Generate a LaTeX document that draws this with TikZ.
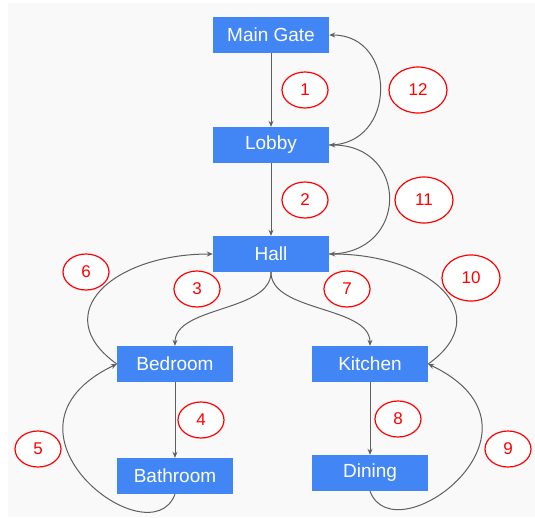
\documentclass[tikz,border=0pt]{standalone}
\usepackage{fontspec}
\setmainfont{Liberation Sans}
\usetikzlibrary{shapes.geometric,arrows.meta}
\definecolor{boxblue}{HTML}{4285F4}
\definecolor{bgc}{HTML}{F9F9F9}
\definecolor{edgec}{HTML}{5F5F5F}
\definecolor{numred}{HTML}{FF0000}
\begin{document}
\begin{tikzpicture}[x=1pt,y=-1pt,
  room/.style={draw=none,fill=boxblue,text=white,minimum width=116pt,minimum height=36pt,inner sep=0pt,font=\fontsize{19}{21}\selectfont},
  num/.style={ellipse,draw=numred,line width=1.2pt,fill=white,text=numred,minimum width=46pt,minimum height=36pt,inner sep=0pt,font=\fontsize{17}{19}\selectfont},
  numbig/.style={num,minimum width=58pt,minimum height=46pt},
  link/.style={draw=edgec,line width=1pt,-{Stealth[length=6pt,width=5pt]}}]
\useasboundingbox (0,0) rectangle (535,517);
\fill[bgc] (8,3) rectangle (535,517);
% rooms
\node[room] (gate) at (271,35) {Main Gate};
\node[room] (lobby) at (271,145) {Lobby};
\node[room] (hall) at (271,254) {Hall};
\node[room] (bed) at (175,364) {Bedroom};
\node[room] (bath) at (175,476) {Bathroom};
\node[room] (kit) at (370,364) {Kitchen};
\node[room] (din) at (370,473) {Dining};
% connectors
\draw[link] (gate.south) -- (lobby.north);
\draw[link] (lobby.south) -- (hall.north);
\draw[link] (hall.south) .. controls +(0,40) and +(0,-40) .. (bed.north);
\draw[link] (bed.south) -- (bath.north);
\draw[link] (bath.south) .. controls +(-25,66) and +(-137,66) .. (bed.west);
\draw[link] (bed.west) .. controls +(-70,-50) and +(-100,0) .. (hall.west);
\draw[link] (hall.south) .. controls +(0,40) and +(0,-40) .. (kit.north);
\draw[link] (kit.south) -- (din.north);
\draw[link] (din.south) .. controls +(25,66) and +(137,66) .. (kit.east);
\draw[link] (kit.east) .. controls +(70,-50) and +(100,0) .. (hall.east);
\draw[link] (hall.east) .. controls +(80,0) and +(80,0) .. (lobby.east);
\draw[link] (lobby.east) .. controls +(68,0) and +(68,0) .. (gate.east);
% numbers
\node[num] (n1) at (305,90) {1};
\node[num] (n2) at (305,200) {2};
\node[num] (n3) at (197,289) {3};
\node[num] (n4) at (201,420) {4};
\node[num] (n5) at (38,449) {5};
\node[num] (n6) at (86,272) {6};
\node[num] (n7) at (347,289) {7};
\node[num] (n8) at (398,419) {8};
\node[num] (n9) at (508,449) {9};
\node[numbig] (n10) at (471,278) {10};
\node[numbig] (n11) at (424,200) {11};
\node[numbig] (n12) at (418,90) {12};
\end{tikzpicture}
\end{document}
